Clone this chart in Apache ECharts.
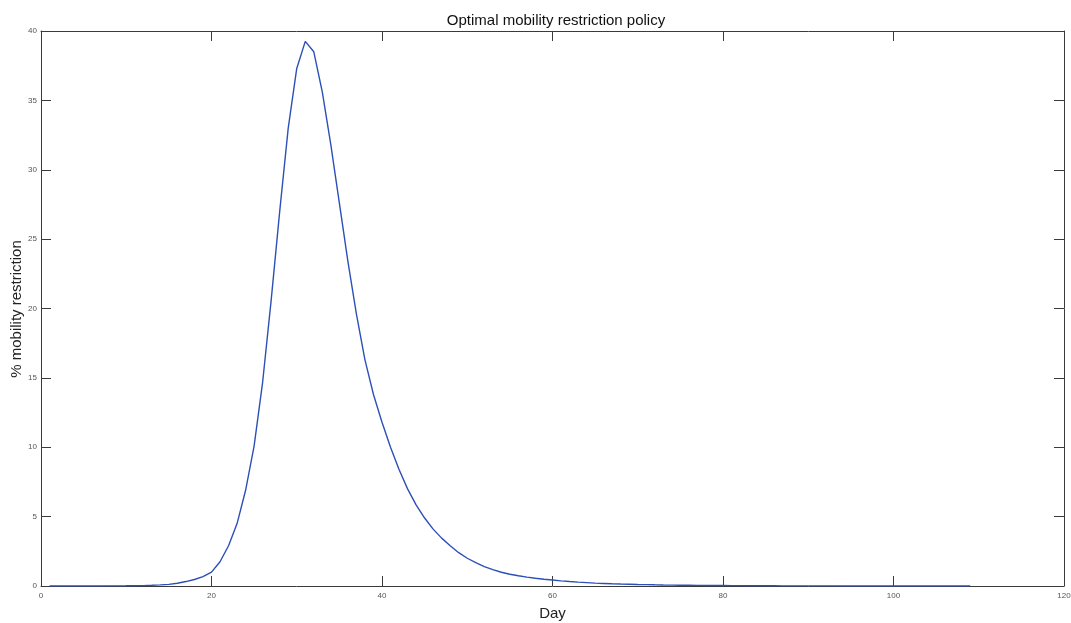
<!DOCTYPE html>
<html>
<head>
<meta charset="utf-8">
<script src="https://cdn.jsdelivr.net/npm/echarts@6/dist/echarts.min.js"></script>
<style>
  html, body { margin: 0; padding: 0; background: #fff; }
  #chart { width: 1071px; height: 623px; }
</style>
</head>
<body>
<div id="chart"></div>
<script>
// Days of the simulation horizon
const days = [];
for (let d = 1; d <= 109; d++) days.push(d);

// Optimal mobility restriction (%) for each day
const restriction = [
  0.001, 0.001, 0.001, 0.002, 0.002, 0.003, 0.004, 0.006, 0.009, 0.013,
  0.02, 0.03, 0.05, 0.08, 0.12, 0.2, 0.32, 0.47, 0.68, 1.0,
  1.75, 2.9, 4.5, 6.9, 10.1, 14.7, 20.6, 27.0, 33.0, 37.3,
  39.25, 38.5, 35.6, 31.8, 27.6, 23.4, 19.6, 16.3, 13.8, 11.8,
  10.0, 8.4, 7.0, 5.85, 4.9, 4.1, 3.45, 2.9, 2.4, 2.0,
  1.68, 1.4, 1.18, 0.99, 0.85, 0.74, 0.64, 0.56, 0.49, 0.43,
  0.37, 0.32, 0.28, 0.245, 0.21, 0.185, 0.16, 0.14, 0.125, 0.11,
  0.097, 0.085, 0.075, 0.066, 0.058, 0.051, 0.045, 0.04, 0.035, 0.031,
  0.027, 0.024, 0.021, 0.018, 0.016, 0.014, 0.012, 0.011, 0.0095, 0.0085,
  0.0075, 0.0066, 0.0058, 0.0051, 0.0045, 0.004, 0.0035, 0.003, 0.0027, 0.0024,
  0.0021, 0.0018, 0.0016, 0.0014, 0.0012, 0.0011, 0.001, 0.0009, 0.0008
];

// Axis ranges and tick spacing
const xRange = [0, 120];
const xStep = 20;
const yRange = [0, 40];
const yStep = 5;

const FONT = '"Liberation Sans", "DejaVu Sans", sans-serif';
const AXIS_COLOR = '#3a3a3a';
const LABEL_COLOR = '#555555';

const points = days.map((d, i) => [d, restriction[i]]);

function boxAxis(extra) {
  return Object.assign({
    type: 'value',
    axisLine: { show: true, onZero: false, lineStyle: { color: AXIS_COLOR, width: 1 } },
    axisTick: { show: true, inside: true, length: 10, lineStyle: { color: AXIS_COLOR, width: 1 } },
    splitLine: { show: false },
    axisLabel: { show: false }
  }, extra);
}

const chart = echarts.init(document.getElementById('chart'), null, { renderer: 'canvas' });
chart.setOption({
  backgroundColor: '#ffffff',
  animation: false,
  title: {
    text: 'Optimal mobility restriction policy',
    left: 551,
    top: 8,
    textAlign: 'center',
    textStyle: { fontFamily: FONT, fontSize: 15, fontWeight: 'normal', color: '#111' }
  },
  // Vertical axis title, set close to the tick labels
  graphic: [{
    type: 'text',
    x: 17,
    y: 309,
    rotation: Math.PI / 2,
    style: {
      text: '% mobility restriction',
      font: '15px ' + FONT,
      fill: '#222',
      align: 'center',
      verticalAlign: 'middle'
    }
  }],
  grid: { left: 41, right: 7, top: 31, bottom: 37, containLabel: false, outerBoundsMode: 'none' },
  xAxis: [
    boxAxis({
      position: 'bottom',
      min: xRange[0], max: xRange[1], interval: xStep,
      name: 'Day',
      nameLocation: 'middle',
      nameGap: 20,
      nameTextStyle: { fontFamily: FONT, fontSize: 15, color: '#222' },
      axisLabel: { show: true, fontFamily: FONT, fontSize: 8, color: LABEL_COLOR, margin: 6 }
    }),
    boxAxis({ position: 'top', min: xRange[0], max: xRange[1], interval: xStep })
  ],
  yAxis: [
    boxAxis({
      position: 'left',
      min: yRange[0], max: yRange[1], interval: yStep,
      axisLabel: { show: true, fontFamily: FONT, fontSize: 8, color: LABEL_COLOR, margin: 4 }
    }),
    boxAxis({ position: 'right', min: yRange[0], max: yRange[1], interval: yStep })
  ],
  series: [{
    type: 'line',
    data: points,
    xAxisIndex: 0,
    yAxisIndex: 0,
    showSymbol: false,
    smooth: false,
    lineStyle: { color: '#2d4fb8', width: 1.4 },
    z: 1
  }]
});
</script>
</body>
</html>
